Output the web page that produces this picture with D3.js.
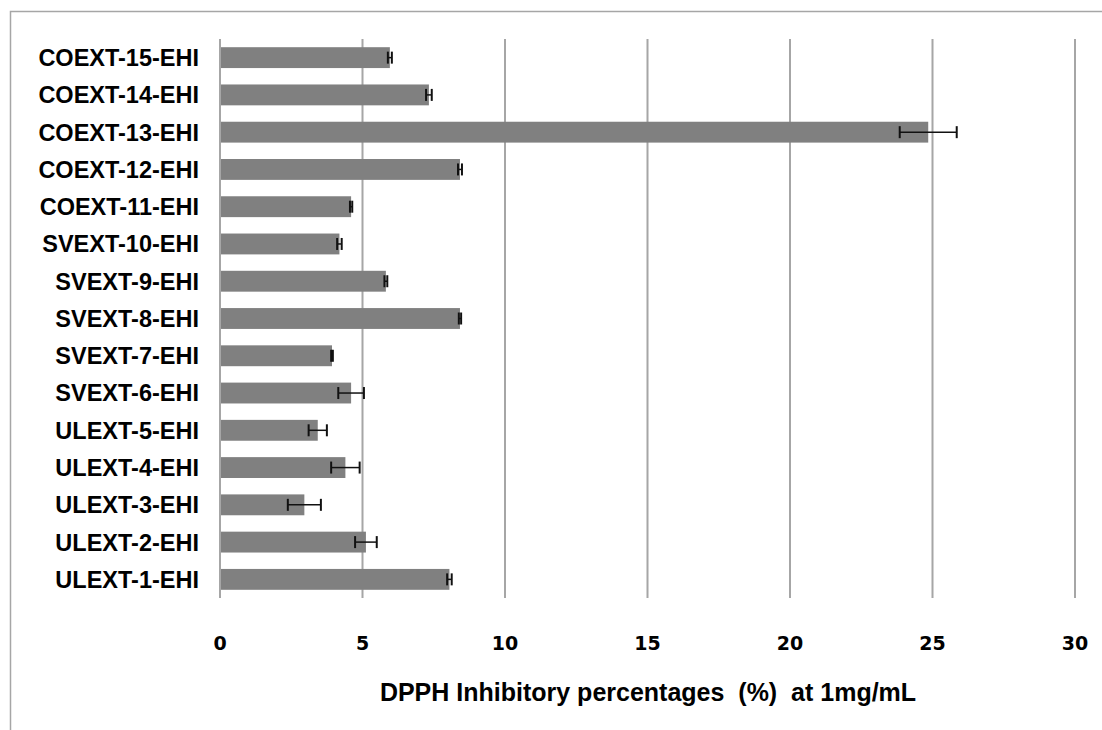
<!DOCTYPE html>
<html>
<head>
<meta charset="utf-8">
<script src="https://cdn.jsdelivr.net/npm/d3@7"></script>
<style>
  body { margin: 0; background: #fff; }
</style>
</head>
<body>
<div id="chart"></div>
<script>
(function() {
    var width = 1102,
        height = 730;

    // samples, bottom to top as in the picture
    var samples = ["ULEXT-1-EHI", "ULEXT-2-EHI", "ULEXT-3-EHI", "ULEXT-4-EHI", "ULEXT-5-EHI",
        "SVEXT-6-EHI", "SVEXT-7-EHI", "SVEXT-8-EHI", "SVEXT-9-EHI", "SVEXT-10-EHI",
        "COEXT-11-EHI", "COEXT-12-EHI", "COEXT-13-EHI", "COEXT-14-EHI", "COEXT-15-EHI"]
    var inhibition = [8.05, 5.12, 2.96, 4.4, 3.43,
        4.6, 3.93, 8.42, 5.82, 4.19,
        4.6, 8.42, 24.85, 7.33, 5.96]
    var errors = [0.08, 0.38, 0.58, 0.5, 0.32,
        0.45, 0.03, 0.04, 0.05, 0.08,
        0.04, 0.07, 1.0, 0.1, 0.07]
    var xTicks = [0, 5, 10, 15, 20, 25, 30]

    var data = samples.map(function(s, i) {
        return {name: s, value: inhibition[i], err: errors[i]}
    })

    var svg = d3.select("#chart")
        .append("svg")
        .attr("width", width)
        .attr("height", height)

    // outer frame (runs off the right and bottom edge)
    svg.append("rect")
        .attr("x", 10.5)
        .attr("y", 11.5)
        .attr("width", 1200)
        .attr("height", 800)
        .attr("fill", "none")
        .attr("stroke", "#a6a6a6")
        .attr("stroke-width", 1.5)

    var x = d3.scaleLinear().domain([0, 30]).range([220, 1075])
    var y = d3.scaleBand()
        .domain(samples.slice().reverse())
        .range([39, 598])
        .paddingInner(0.44)
        .paddingOuter(0.22)

    // vertical gridlines
    svg.selectAll(".grid")
        .data(xTicks)
        .enter().append("line")
        .attr("class", "grid")
        .attr("x1", function(d) { return x(d) })
        .attr("x2", function(d) { return x(d) })
        .attr("y1", 39)
        .attr("y2", 598)
        .attr("stroke", "#a6a6a6")
        .attr("stroke-width", 2)

    svg.selectAll(".bar")
        .data(data)
        .enter().append("rect")
        .attr("class", "bar")
        .attr("x", x(0) + 1)
        .attr("y", function(d) { return y(d.name) })
        .attr("width", function(d) { return x(d.value) - x(0) - 1 })
        .attr("height", y.bandwidth())
        .attr("fill", "#808080")

    // error bars
    var eb = svg.selectAll(".err")
        .data(data)
        .enter().append("g")
        .attr("class", "err")
        .attr("stroke", "#111")
    eb.append("line")
        .attr("x1", function(d) { return x(d.value - d.err) })
        .attr("x2", function(d) { return x(d.value + d.err) })
        .attr("y1", function(d) { return y(d.name) + y.bandwidth() / 2 })
        .attr("y2", function(d) { return y(d.name) + y.bandwidth() / 2 })
        .attr("stroke-width", 1.5)
    eb.selectAll(".cap")
        .data(function(d) {
            return [d.value - d.err, d.value + d.err].map(function(v) { return {v: v, name: d.name} })
        })
        .enter().append("line")
        .attr("class", "cap")
        .attr("x1", function(d) { return x(d.v) })
        .attr("x2", function(d) { return x(d.v) })
        .attr("y1", function(d) { return y(d.name) + y.bandwidth() / 2 - 6 })
        .attr("y2", function(d) { return y(d.name) + y.bandwidth() / 2 + 6 })
        .attr("stroke-width", 2)

    // category labels
    svg.selectAll(".label")
        .data(samples)
        .enter().append("text")
        .attr("class", "label")
        .attr("x", 199)
        .attr("y", function(d) { return y(d) + y.bandwidth() / 2 })
        .attr("dy", "0.36em")
        .attr("text-anchor", "end")
        .attr("font-family", "'Liberation Sans', Arial, sans-serif")
        .attr("font-weight", "bold")
        .attr("font-size", 23.5)
        .attr("fill", "#000")
        .text(function(d) { return d })

    // x tick labels
    svg.selectAll(".tick")
        .data(xTicks)
        .enter().append("text")
        .attr("class", "tick")
        .attr("x", function(d) { return x(d) })
        .attr("y", 650)
        .attr("text-anchor", "middle")
        .attr("font-family", "'DejaVu Sans', Verdana, sans-serif")
        .attr("font-weight", "bold")
        .attr("font-size", 19)
        .attr("fill", "#000")
        .text(function(d) { return d })

    svg.append("text")
        .attr("x", 648)
        .attr("y", 701)
        .attr("text-anchor", "middle")
        .attr("font-family", "'Liberation Sans', Arial, sans-serif")
        .attr("font-weight", "bold")
        .attr("font-size", 25)
        .attr("fill", "#000")
        .style("white-space", "pre")
        .text("DPPH Inhibitory percentages  (%)  at 1mg/mL")
})();
</script>
</body>
</html>
